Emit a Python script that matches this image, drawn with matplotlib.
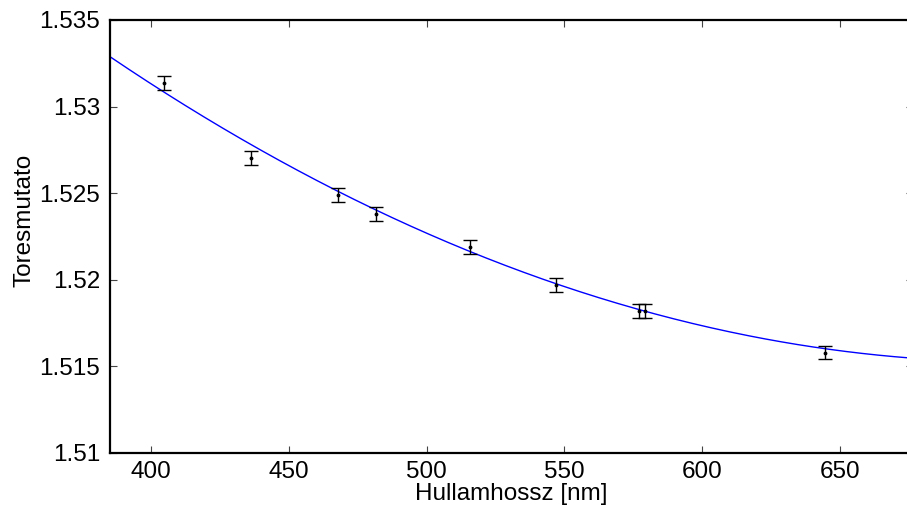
import numpy as np
import matplotlib
matplotlib.use("Agg")
import matplotlib.pyplot as plt

plt.rcParams['font.family'] = ['Liberation Sans', 'DejaVu Sans']

# measured points (wavelength nm, refractive index)
wavelength = [404.7, 436.3, 467.9, 481.6, 515.9, 547.0, 577.0, 579.1, 644.6]
index = [1.53137, 1.52702, 1.52490, 1.52381, 1.52190, 1.51971, 1.51822, 1.51818, 1.51580]
index_err = [0.0004, 0.0004, 0.0004, 0.0004, 0.0004, 0.0004, 0.0004, 0.0004, 0.0004]

# quadratic fit coefficients
fit_coef = [1.64e-7, -2.3384e-4, 1.598611]

xlim = (385.1, 676.5)
ylim = (1.51, 1.535)
xticks = [400, 450, 500, 550, 600, 650]
yticks = [1.51, 1.515, 1.52, 1.525, 1.53, 1.535]
yticklabels = ['1.51', '1.515', '1.52', '1.525', '1.53', '1.535']

W, H = 907, 508
fig = plt.figure(figsize=(W / 100, H / 100), dpi=100)
# axes box in pixels: left 110, right 913, top 20, bottom 453
ax = fig.add_axes([110 / W, (H - 453) / H, (913 - 110) / W, (453 - 20) / H])

xs = np.linspace(xlim[0], xlim[1], 300)
ax.plot(xs, np.polyval(fit_coef, xs), color='#0000ff', lw=1.0, zorder=2)

ax.errorbar(wavelength, index, yerr=index_err, fmt='.', color='black',
            ms=3.5, elinewidth=1.0, capsize=4.7, capthick=1.0, zorder=3)

ax.set_xlim(*xlim)
ax.set_ylim(*ylim)
ax.set_xticks(xticks)
ax.set_yticks(yticks)
ax.set_yticklabels(yticklabels)

ax.tick_params(direction='in', length=5, width=0.8, labelsize=17.5,
               top=True, right=True, pad=7, color='#444444')
ax.tick_params(axis='x', pad=6)
for s in ax.spines.values():
    s.set_linewidth(1.6)

ax.set_xlabel('Hullamhossz [nm]', fontsize=17.5, labelpad=0)
ax.set_ylabel('Toresmutato', fontsize=17.5)
ax.yaxis.set_label_coords(-0.093, 0.538)

fig.savefig('out.png', dpi=100)
